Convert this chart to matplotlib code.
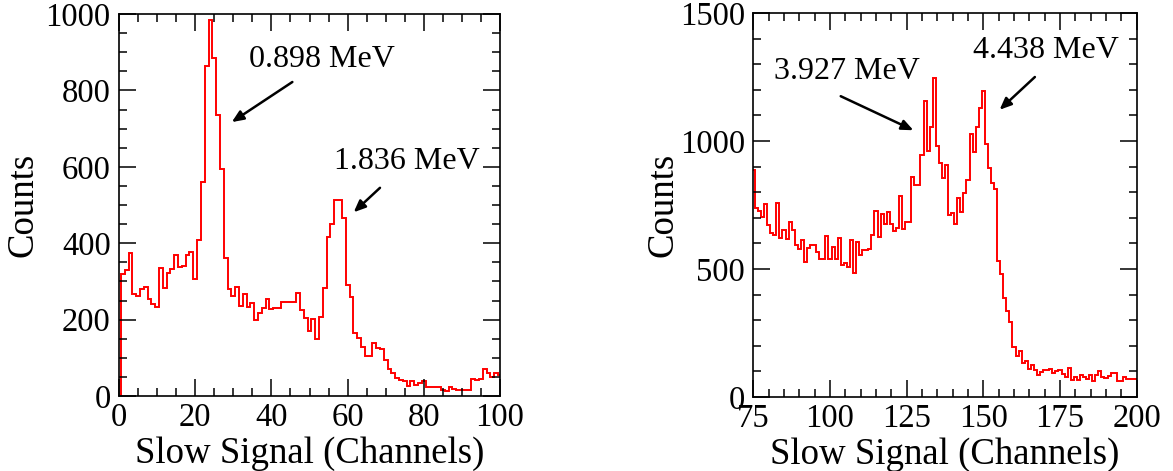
import numpy as np
import matplotlib
matplotlib.use("Agg")
import matplotlib.pyplot as plt
from matplotlib.ticker import MultipleLocator

# left spectrum: one value per channel, channels 0..100
left_channels = np.arange(0, 101)
left_counts = [
    0, 320, 330, 374, 266, 262, 279, 286, 254, 240,
    234, 334, 284, 321, 332, 368, 339, 341, 368, 376,
    307, 409, 559, 863, 985, 884, 736, 595, 362, 279,
    263, 285, 236, 266, 232, 243, 199, 217, 230, 253,
    227, 230, 230, 247, 247, 245, 245, 269, 224, 203,
    169, 201, 149, 208, 284, 416, 450, 514, 514, 467,
    291, 259, 166, 151, 127, 106, 106, 138, 125, 122,
    93, 71, 59, 46, 42, 38, 26, 38, 30, 35,
    40, 23, 24, 23, 23, 17, 12, 24, 19, 16,
    17, 16, 16, 44, 42, 45, 70, 59, 51, 59,
    55,
]

# right spectrum: channels 75..200
right_channels = np.arange(75, 201)
right_counts = [
    886, 739, 726, 704, 752, 671, 641, 632, 756, 623,
    654, 617, 682, 652, 593, 578, 613, 527, 583, 594,
    594, 567, 539, 539, 627, 539, 587, 539, 620, 515,
    522, 506, 615, 486, 606, 554, 574, 574, 580, 631,
    727, 626, 713, 675, 723, 675, 649, 662, 785, 656,
    682, 684, 860, 829, 827, 944, 1156, 961, 1054, 1247,
    979, 914, 856, 905, 710, 717, 675, 778, 723, 795,
    849, 1028, 957, 1054, 1130, 1194, 987, 896, 836, 812,
    532, 480, 386, 337, 292, 197, 161, 181, 132, 139,
    109, 126, 106, 87, 96, 104, 104, 109, 93, 100,
    104, 91, 80, 113, 67, 80, 67, 87, 78, 70,
    87, 61, 87, 100, 80, 74, 83, 93, 93, 61,
    61, 77, 70, 70, 70, 70,
]

left_peaks = ["0.898 MeV", "1.836 MeV"]
right_peaks = ["3.927 MeV", "4.438 MeV"]

plt.rcParams["font.family"] = ["Liberation Serif", "DejaVu Serif"]


def style_axes(ax, xmaj, ymaj, yminor):
    ax.xaxis.set_major_locator(MultipleLocator(xmaj))
    ax.xaxis.set_minor_locator(MultipleLocator(5))
    ax.yaxis.set_major_locator(MultipleLocator(ymaj))
    ax.yaxis.set_minor_locator(MultipleLocator(yminor))
    ax.tick_params(which="both", direction="in", top=True, right=True, width=1.1, labelsize=23.5)
    ax.tick_params(which="major", length=12)
    ax.tick_params(which="minor", length=6)
    ax.tick_params(axis="y", pad=6)
    ax.tick_params(axis="x", pad=5)
    for s in ax.spines.values():
        s.set_linewidth(1.2)
    ax.set_xlabel("Slow Signal (Channels)", fontsize=26.5)
    ax.set_ylabel("Counts", fontsize=26.5)


def draw_hist(ax, channels, counts):
    edges = np.append(channels - 0.5, channels[-1] + 0.5)
    ax.stairs(counts, edges, color="red", lw=1.4, baseline=None)


fig = plt.figure(figsize=(11.73, 4.71), dpi=100)
ax1 = fig.add_axes([119 / 1173, 75 / 471, 381 / 1173, 382 / 471])
ax2 = fig.add_axes([753.3 / 1173, 74 / 471, 383.4 / 1173, 384 / 471])

arrow = dict(arrowstyle="-|>,head_length=0.7,head_width=0.3", color="black", lw=1.8, shrinkA=0, shrinkB=0)

draw_hist(ax1, left_channels, left_counts)
ax1.set_xlim(0, 100)
ax1.set_ylim(0, 1000)
style_axes(ax1, 20, 200, 50)
ax1.yaxis.set_label_coords(-0.205, 0.5)
ax1.xaxis.set_label_coords(0.5, -0.105)
ax1.text(53.3, 880, left_peaks[0], fontsize=23, ha="center", va="center")
ax1.annotate("", xy=(29.6, 717), xytext=(45.5, 822), arrowprops=arrow)
ax1.text(75.5, 615, left_peaks[1], fontsize=23, ha="center", va="center")
ax1.annotate("", xy=(61.6, 481), xytext=(68.5, 545), arrowprops=arrow)

draw_hist(ax2, right_channels, right_counts)
ax2.set_xlim(75, 200)
ax2.set_ylim(0, 1500)
style_axes(ax2, 25, 500, 100)
ax2.yaxis.set_label_coords(-0.19, 0.5)
ax2.xaxis.set_label_coords(0.5, -0.105)
ax2.text(105.5, 1270, right_peaks[0], fontsize=23, ha="center", va="center")
ax2.annotate("", xy=(127.2, 1042), xytext=(103.5, 1175), arrowprops=arrow)
ax2.text(170.3, 1355, right_peaks[1], fontsize=23, ha="center", va="center")
ax2.annotate("", xy=(155.3, 1122), xytext=(166.8, 1250), arrowprops=arrow)

fig.savefig("out.png", dpi=100)
plt.close(fig)
